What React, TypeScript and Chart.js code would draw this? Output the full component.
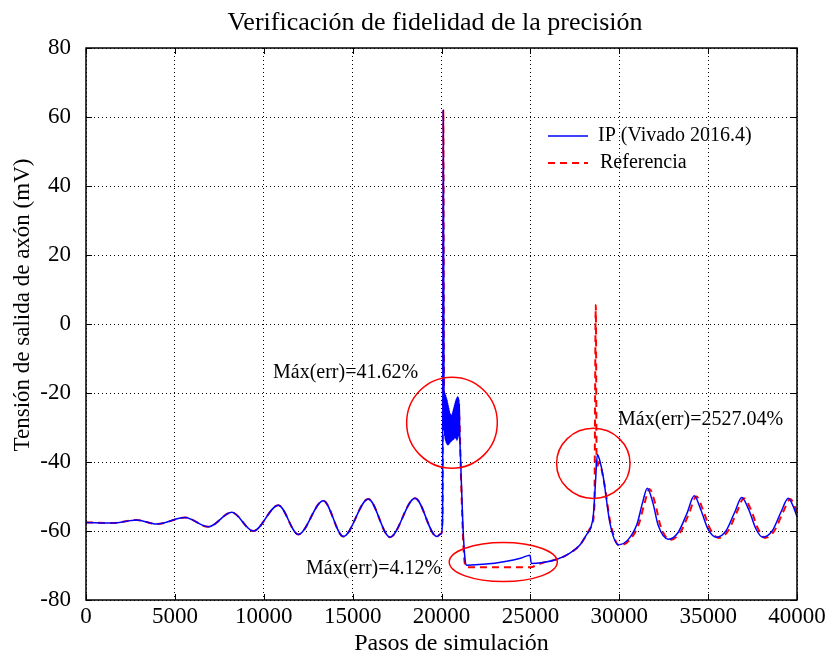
import React, { useEffect, useRef } from "react";
import { Chart, registerables } from "chart.js";

Chart.register(...registerables);

const FONT = '"Liberation Serif", "Times New Roman", serif';

const TITLE = "Verificación de fidelidad de la precisión";
const X_TITLE = "Pasos de simulación";
const Y_TITLE = "Tensión de salida de axón (mV)";
const SERIES_NAMES = ["IP (Vivado 2016.4)", "Referencia"];

const X_MIN = 0;
const X_MAX = 40000;
const X_STEP = 5000;
const Y_MIN = -80;
const Y_MAX = 80;
const Y_STEP = 20;

// IP (Vivado 2016.4) series
const ipSteps = [
  0, 1500, 2850, 3975, 5570, 6880, 8200, 9410, 10820, 11945, 13350, 14475, 15880, 17100, 18510, 19730,
  19980, 20060, 20100, 20140,
  20150, 20165, 20180, 20195, 20210, 20225, 20240, 20255, 20270, 20285, 20300, 20315, 20330, 20345,
  20360, 20375, 20390, 20405, 20420, 20435, 20450, 20465, 20480, 20495, 20510, 20525, 20540, 20555,
  20570, 20585, 20600, 20615, 20630, 20645, 20660, 20675, 20690, 20705, 20720, 20735, 20750, 20765,
  20780, 20795, 20810, 20825, 20840, 20855, 20870, 20885, 20900, 20915, 20930, 20945, 20960, 20975,
  20990, 21005, 21020,
  21080, 21200, 21330, 21420, 22500, 23500, 24500, 24980, 25050, 25600, 26500, 27200, 27800,
  28170, 28400, 28550, 28650, 28770, 28900, 29100, 29480, 29950, 30500, 31000, 31300, 31580,
  31900, 32200, 32760, 33300, 33800, 34220, 34600, 35000, 35480, 36000, 36500, 36890, 37300,
  37700, 38070, 38600, 39100, 39510, 39800, 40000,
];
const ipVolt = [
  -57.5, -57.7, -56.8, -58.0, -56.1, -58.8, -54.6, -60.0, -52.5, -61.0, -51.2, -61.6, -50.7, -61.8, -50.5, -61.6,
  -60.8, -56, 62, -20,
  -31, -19.8, -32.5, -20, -33.5, -20.5, -34, -21, -34.5, -21.5, -34.8, -22, -35, -22.8,
  -35, -23.5, -35, -24.2, -34.8, -25, -34.6, -25.6, -34.4, -26, -34.2, -26.4, -34, -26.5,
  -34, -26.2, -33.8, -25.8, -33.6, -25.2, -33.5, -24.6, -33.4, -24, -33.2, -23.4, -33, -22.8,
  -33, -22.2, -33.2, -21.8, -33.5, -21.4, -33.8, -21.2, -33.5, -21, -33, -21.2, -32.5, -21.8,
  -31.5, -23, -30,
  -40, -58, -68.5, -69.9, -69.6, -68.9, -67.8, -67.0, -69.4, -69.2, -68.2, -66.5, -64.0,
  -61.0, -59.0, -55.0, -47.0, -37.8, -39.5, -44.3, -57.8, -64.0, -62.5, -58.0, -52.0, -47.6,
  -52.0, -58.5, -62.4, -60.5, -55.0, -49.8, -54.0, -59.5, -61.8, -60.0, -54.5, -50.3, -54.0,
  -59.5, -61.8, -60.0, -54.5, -50.5, -53.0, -55.9,
];

// Referencia series
const refSteps = [
  0, 1500, 2850, 3975, 5570, 6880, 8200, 9410, 10820, 11945, 13350, 14475, 15880, 17100, 18510, 19730,
  19980, 20060, 20100, 20140, 20300, 20500, 20700, 20900, 21000, 21100, 21250, 21400, 23000, 25000,
  25400, 25700, 26500, 27200, 27800, 28170, 28400, 28600, 28680, 28730, 28850, 29150, 29500, 30000,
  30600, 31100, 31420, 31700, 32020, 32320, 32880, 33420, 33920, 34340, 34720, 35120, 35600, 36120,
  36620, 37010, 37420, 37820, 38190, 38720, 39220, 39630, 39920, 40000,
];
const refVolt = [
  -57.5, -57.7, -56.8, -58.0, -56.1, -58.8, -54.6, -60.0, -52.5, -61.0, -51.2, -61.6, -50.7, -61.8, -50.5, -61.6,
  -60.8, -56, 62, -20, -25, -28, -27, -25, -27, -45, -66, -70.5, -70.5, -70.5,
  -69.8, -69.2, -68.2, -66.5, -64.0, -61.0, -59.0, -53, 5.5, -42, -40, -46, -57.5, -64.2,
  -62.5, -58, -52, -47.8, -52, -58.5, -62.6, -60.5, -55, -50, -54, -59.5, -62, -60,
  -54.5, -50.5, -54, -59.5, -62, -60, -54.5, -50.7, -53.5, -54.5,
];

// Error annotations (text anchored at left/middle, in data units)
const noteLabels = ["Máx(err)=41.62%", "Máx(err)=4.12%", "Máx(err)=2527.04%"];
const noteSteps = [10520, 12380, 29930];
const noteVolt = [-14, -71, -27.8];

// Red highlight ellipses (centre and radii in data units)
const circleSteps = [20590, 23475, 28540];
const circleVolt = [-28.6, -69.0, -40.4];
const circleRxSteps = [2550, 3040, 2065];
const circleRyVolt = [13.2, 5.65, 10.15];

const overlayPlugin = {
  id: "overlay",
  afterDatasetsDraw(chart: any) {
    const { ctx, chartArea: a, scales } = chart;
    const xs = scales.x;
    const ys = scales.y;
    ctx.save();

    // ellipses
    ctx.strokeStyle = "#ff0000";
    ctx.lineWidth = 1.5;
    ctx.setLineDash([]);
    for (let i = 0; i < circleSteps.length; i++) {
      const cx = xs.getPixelForValue(circleSteps[i]);
      const cy = ys.getPixelForValue(circleVolt[i]);
      const rx = Math.abs(xs.getPixelForValue(circleSteps[i] + circleRxSteps[i]) - cx);
      const ry = Math.abs(ys.getPixelForValue(circleVolt[i] + circleRyVolt[i]) - cy);
      ctx.beginPath();
      ctx.ellipse(cx, cy, rx, ry, 0, 0, Math.PI * 2);
      ctx.stroke();
    }

    // annotation texts
    ctx.fillStyle = "#000";
    ctx.font = `20px ${FONT}`;
    ctx.textAlign = "left";
    ctx.textBaseline = "middle";
    for (let i = 0; i < noteLabels.length; i++) {
      ctx.fillText(noteLabels[i], xs.getPixelForValue(noteSteps[i]), ys.getPixelForValue(noteVolt[i]));
    }

    // legend
    const lx0 = a.left + 462;
    const lx1 = a.left + 502;
    const ly0 = a.top + 88;
    const ly1 = a.top + 115;
    ctx.lineWidth = 1.6;
    ctx.strokeStyle = "#0000ff";
    ctx.beginPath();
    ctx.moveTo(lx0, ly0);
    ctx.lineTo(lx1, ly0);
    ctx.stroke();
    ctx.strokeStyle = "#ff0000";
    ctx.lineWidth = 2;
    ctx.setLineDash([7, 5]);
    ctx.beginPath();
    ctx.moveTo(lx0, ly1);
    ctx.lineTo(lx1, ly1);
    ctx.stroke();
    ctx.setLineDash([]);
    ctx.fillStyle = "#000";
    ctx.font = `20px ${FONT}`;
    ctx.fillText(SERIES_NAMES[0], lx1 + 10, ly0);
    ctx.fillText(SERIES_NAMES[1], lx1 + 12, ly1);

    // frame
    ctx.strokeStyle = "#000";
    ctx.lineWidth = 1.5;
    ctx.strokeRect(a.left, a.top, a.right - a.left, a.bottom - a.top);

    // inward tick marks
    ctx.lineWidth = 1;
    const tl = 6;
    ctx.beginPath();
    for (const t of xs.ticks) {
      const px = Math.round(xs.getPixelForValue(t.value)) + 0.5;
      ctx.moveTo(px, a.bottom);
      ctx.lineTo(px, a.bottom - tl);
      ctx.moveTo(px, a.top);
      ctx.lineTo(px, a.top + tl);
    }
    for (const t of ys.ticks) {
      const py = Math.round(ys.getPixelForValue(t.value)) + 0.5;
      ctx.moveTo(a.left, py);
      ctx.lineTo(a.left + tl, py);
      ctx.moveTo(a.right, py);
      ctx.lineTo(a.right - tl, py);
    }
    ctx.stroke();

    // titles
    ctx.fillStyle = "#000";
    ctx.textAlign = "center";
    ctx.textBaseline = "alphabetic";
    ctx.font = `26px ${FONT}`;
    ctx.fillText(TITLE, 435, 30);
    ctx.font = `24px ${FONT}`;
    ctx.textBaseline = "middle";
    ctx.fillText(X_TITLE, (a.left + a.right) / 2 + 10, 644);
    ctx.save();
    ctx.translate(23, 305);
    ctx.rotate(-Math.PI / 2);
    ctx.font = `23px ${FONT}`;
    ctx.fillText(Y_TITLE, 0, 0);
    ctx.restore();

    ctx.restore();
  },
};

export default function App() {
  const canvasRef = useRef<HTMLCanvasElement | null>(null);

  useEffect(() => {
    const canvas = canvasRef.current;
    if (!canvas) return;
    const chart = new Chart(canvas, {
      type: "line",
      data: {
        datasets: [
          {
            label: SERIES_NAMES[0],
            data: ipSteps.map((s, i) => ({ x: s, y: ipVolt[i] })),
            borderColor: "#0000ff",
            borderWidth: 1.5,
            pointRadius: 0,
            fill: false,
            cubicInterpolationMode: "monotone",
          },
          {
            label: SERIES_NAMES[1],
            data: refSteps.map((s, i) => ({ x: s, y: refVolt[i] })),
            borderColor: "#ff0000",
            borderWidth: 2,
            borderDash: [7, 5],
            pointRadius: 0,
            fill: false,
            cubicInterpolationMode: "monotone",
          },
        ],
      },
      options: {
        animation: false,
        responsive: false,
        maintainAspectRatio: false,
        events: [],
        layout: { padding: { top: 48, right: 33, bottom: 0, left: 0 } },
        plugins: {
          legend: { display: false },
          tooltip: { enabled: false },
          title: { display: false },
        },
        scales: {
          x: {
            type: "linear",
            min: X_MIN,
            max: X_MAX,
            afterFit: (s: any) => {
              s.height = 58;
            },
            ticks: {
              stepSize: X_STEP,
              color: "#000",
              padding: 3,
              maxRotation: 0,
              font: { family: FONT, size: 23 },
              callback: (v: any) => String(v),
            },
            grid: { color: "#000", lineWidth: 1, drawTicks: false },
            border: { display: false, dash: [1, 3] },
          },
          y: {
            type: "linear",
            min: Y_MIN,
            max: Y_MAX,
            afterFit: (s: any) => {
              s.width = 86;
            },
            ticks: {
              stepSize: Y_STEP,
              color: "#000",
              padding: 15,
              font: { family: FONT, size: 23 },
              callback: (v: any) => String(v),
            },
            grid: { color: "#000", lineWidth: 1, drawTicks: false },
            border: { display: false, dash: [1, 3] },
          },
        },
      },
      plugins: [overlayPlugin],
    } as any);
    return () => chart.destroy();
  }, []);

  return (
    <div style={{ position: "fixed", left: 0, top: 0, width: 830, height: 658, background: "#fff" }}>
      <canvas ref={canvasRef} width={830} height={658} style={{ display: "block" }} />
    </div>
  );
}
